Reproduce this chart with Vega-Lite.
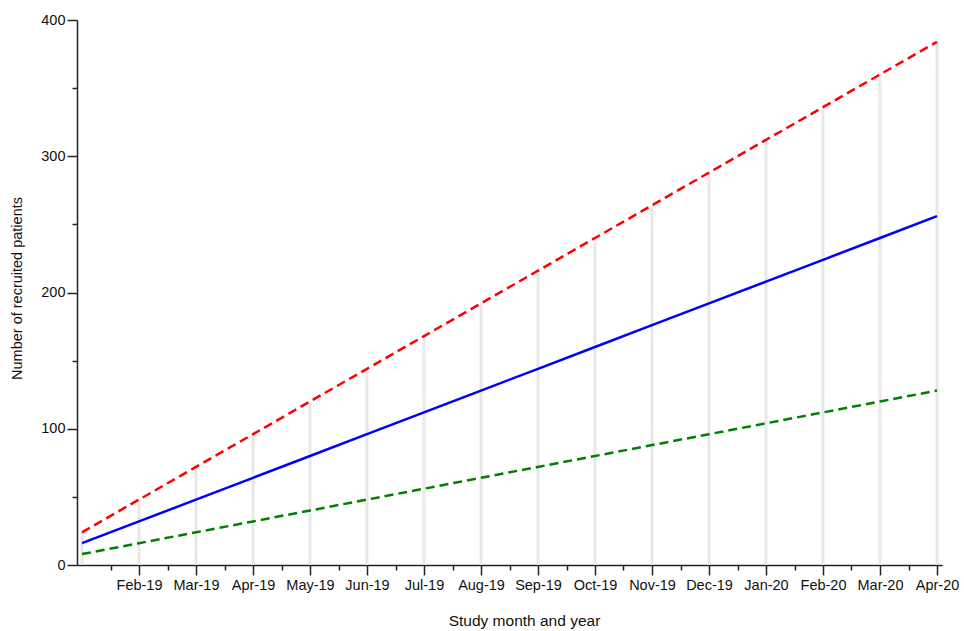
{
  "$schema": "https://vega.github.io/schema/vega-lite/v6.json",
  "width": 865,
  "height": 545,
  "autosize": "none",
  "padding": {"left": 77, "top": 20, "right": 22, "bottom": 66},
  "background": "white",
  "config": {
    "view": {"stroke": null},
    "font": "Liberation Sans",
    "axis": {
      "grid": false,
      "domainColor": "#222",
      "domainWidth": 1.5,
      "tickColor": "#222",
      "tickWidth": 1.5,
      "labelFont": "Liberation Sans",
      "labelFontSize": 14.5,
      "labelColor": "#111",
      "titleFont": "Liberation Sans",
      "titleFontSize": 15,
      "titleFontWeight": "normal",
      "titleColor": "#111"
    }
  },
  "data": {
    "values": [
      {"m": 0, "label": "Jan-19", "high": 24, "mid": 16, "low": 8},
      {"m": 1, "label": "Feb-19", "high": 48, "mid": 32, "low": 16},
      {"m": 2, "label": "Mar-19", "high": 72, "mid": 48, "low": 24},
      {"m": 3, "label": "Apr-19", "high": 96, "mid": 64, "low": 32},
      {"m": 4, "label": "May-19", "high": 120, "mid": 80, "low": 40},
      {"m": 5, "label": "Jun-19", "high": 144, "mid": 96, "low": 48},
      {"m": 6, "label": "Jul-19", "high": 168, "mid": 112, "low": 56},
      {"m": 7, "label": "Aug-19", "high": 192, "mid": 128, "low": 64},
      {"m": 8, "label": "Sep-19", "high": 216, "mid": 144, "low": 72},
      {"m": 9, "label": "Oct-19", "high": 240, "mid": 160, "low": 80},
      {"m": 10, "label": "Nov-19", "high": 264, "mid": 176, "low": 88},
      {"m": 11, "label": "Dec-19", "high": 288, "mid": 192, "low": 96},
      {"m": 12, "label": "Jan-20", "high": 312, "mid": 208, "low": 104},
      {"m": 13, "label": "Feb-20", "high": 336, "mid": 224, "low": 112},
      {"m": 14, "label": "Mar-20", "high": 360, "mid": 240, "low": 120},
      {"m": 15, "label": "Apr-20", "high": 384, "mid": 256, "low": 128}
    ]
  },
  "encoding": {
    "x": {
      "field": "m",
      "type": "quantitative",
      "scale": {"domain": [0, 15], "nice": false, "zero": false},
      "axis": {
        "title": "Study month and year",
        "titleFontSize": 15.5,
        "values": [0.5, 1, 1.5, 2, 2.5, 3, 3.5, 4, 4.5, 5, 5.5, 6, 6.5, 7, 7.5, 8, 8.5, 9, 9.5, 10, 10.5, 11, 11.5, 12, 12.5, 13, 13.5, 14, 14.5, 15],
        "labelExpr": "datum.value % 1 === 0 ? ['Jan-19','Feb-19','Mar-19','Apr-19','May-19','Jun-19','Jul-19','Aug-19','Sep-19','Oct-19','Nov-19','Dec-19','Jan-20','Feb-20','Mar-20','Apr-20'][datum.value] : ''",
        "tickSize": {"condition": {"test": "datum.value % 1 === 0", "value": 10}, "value": 5},
        "labelPadding": 3,
        "labelFlush": false,
        "labelOverlap": false,
        "titlePadding": 22,
        "titleX": 447,
        "titleAnchor": null
      }
    }
  },
  "layer": [
    {
      "mark": {"type": "bar", "color": "#e8e8e8", "size": 3, "clip": true},
      "encoding": {
        "y": {
          "field": "high",
          "type": "quantitative",
          "scale": {"domain": [0, 400], "nice": false},
          "axis": {
            "title": "Number of recruited patients",
            "titleFontSize": 14.5,
            "values": [0, 25, 50, 75, 100, 125, 150, 175, 200, 225, 250, 275, 300, 325, 350, 375, 400],
            "labelExpr": "datum.value % 100 === 0 ? datum.label : ''",
            "tickSize": {"condition": {"test": "datum.value % 100 === 0", "value": 10}, "value": 5},
            "labelPadding": 2,
            "titlePadding": 16,
            "titleY": 268
          }
        }
      }
    },
    {
      "mark": {"type": "line", "color": "#ff0000", "strokeWidth": 2.5, "strokeDash": [9, 5]},
      "encoding": {"y": {"field": "high", "type": "quantitative"}}
    },
    {
      "mark": {"type": "line", "color": "#0000ff", "strokeWidth": 2.5},
      "encoding": {"y": {"field": "mid", "type": "quantitative"}}
    },
    {
      "mark": {"type": "line", "color": "#008000", "strokeWidth": 2.5, "strokeDash": [9, 5]},
      "encoding": {"y": {"field": "low", "type": "quantitative"}}
    }
  ]
}
